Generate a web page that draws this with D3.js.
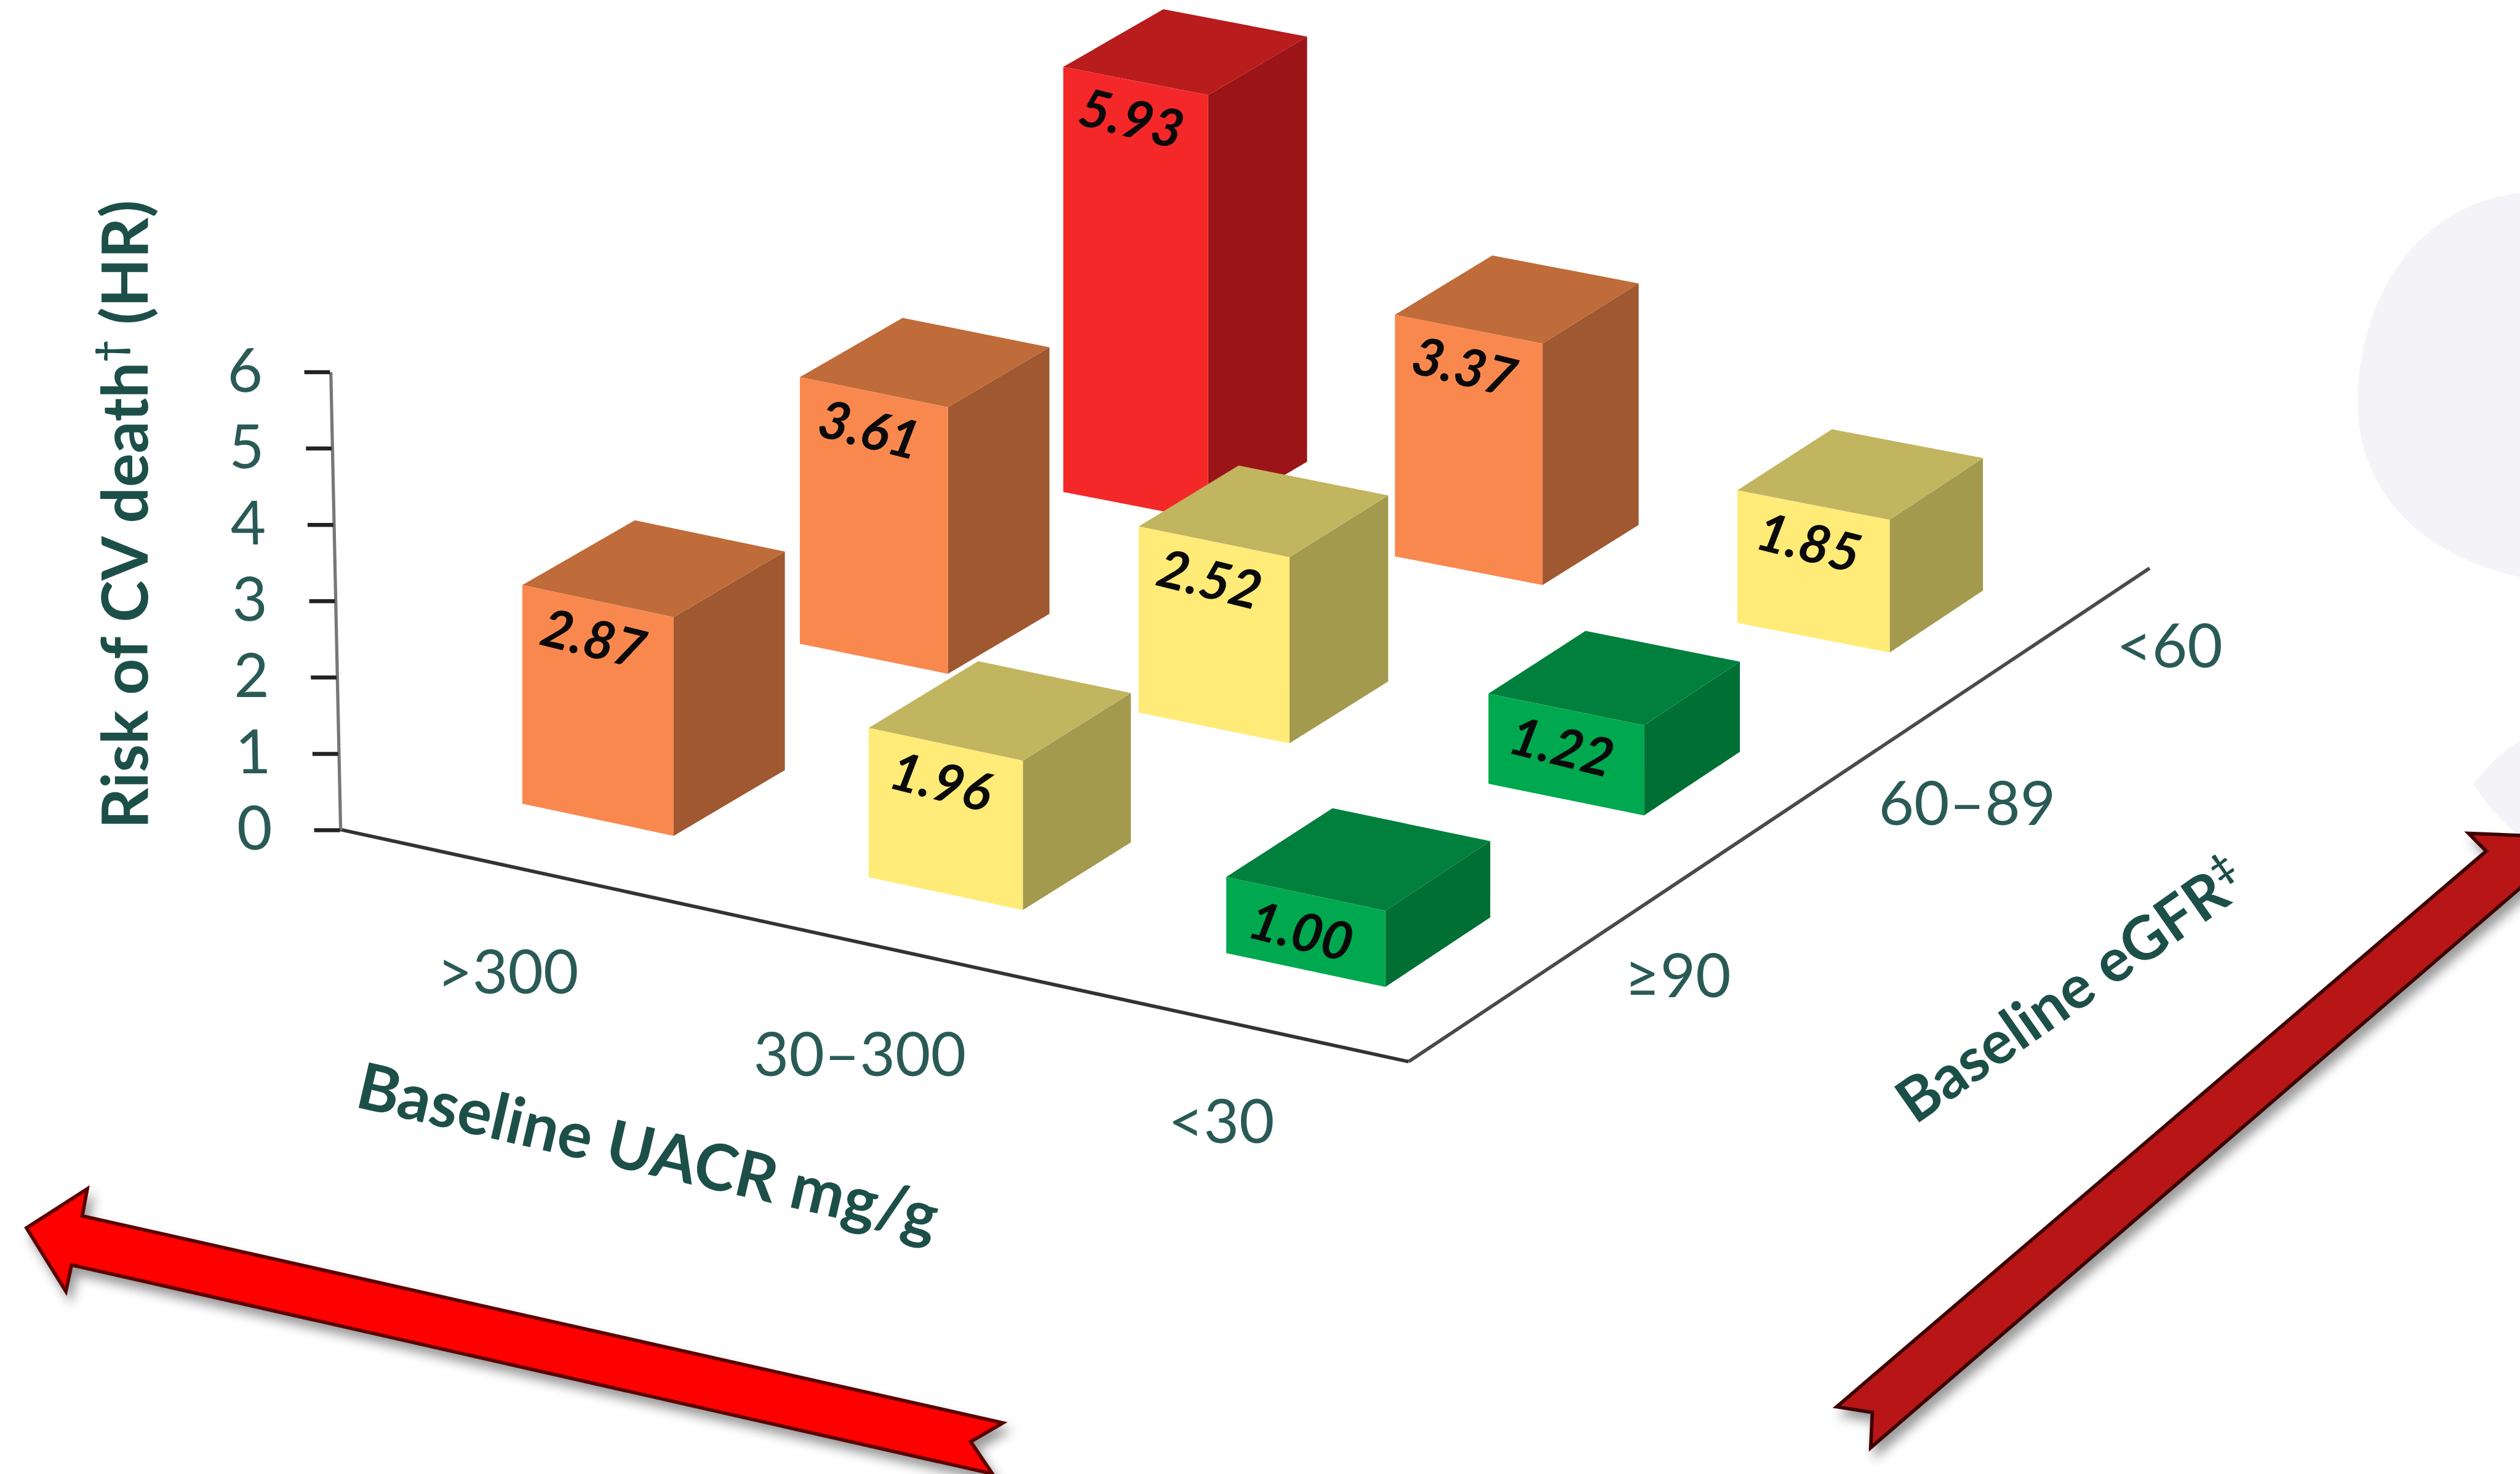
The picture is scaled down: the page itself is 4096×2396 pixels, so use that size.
<!DOCTYPE html>
<html>
<head>
<meta charset="utf-8">
<script src="https://cdn.jsdelivr.net/npm/d3@7"></script>
<style>
  html, body { margin: 0; padding: 0; background: #fff; overflow: hidden; }
  svg { display: block; }
  text { font-family: Lato, "Open Sans", sans-serif; }
</style>
</head>
<body>
<svg id="chart"></svg>
<script>
// Hazard ratios for CV death by baseline kidney measures
const uacrCategories = [">300", "30–300", "<30"];
const egfrCategories = ["≥90", "60–89", "<60"];
const riskAt90 = [2.87, 1.96, 1.00];
const riskAt60to89 = [3.61, 2.52, 1.22];
const riskBelow60 = [5.93, 3.37, 1.85];
const riskTicks = [0, 1, 2, 3, 4, 5, 6];

const riskRows = [riskAt90, riskAt60to89, riskBelow60];

// Drawing space; the viewBox scales it up to the window
const W = 1568, H = 917;
const svg = d3.select("#chart")
  .attr("width", 4096).attr("height", 2396)
  .attr("viewBox", `0 0 ${W} ${H}`);

const INK = "#1d4f49";
const TICK_INK = "#2a5a56";

const defs = svg.append("defs");
defs.append("filter").attr("id", "arrowShadow")
  .attr("x", "-10%").attr("y", "-10%").attr("width", "120%").attr("height", "130%")
  .append("feDropShadow")
  .attr("dx", 3).attr("dy", 5).attr("stdDeviation", 3.5)
  .attr("flood-color", "#000").attr("flood-opacity", 0.4);

// Pale decorative shapes behind the chart at the right edge
svg.append("path")
  .attr("d", "M1568,120 C1500,128 1467,190 1467,250 C1467,305 1505,345 1568,359 Z")
  .attr("fill", "#f3f3f8");
svg.append("path")
  .attr("d", "M1568,461 Q1552,470 1539,488 Q1552,508 1568,520 Z")
  .attr("fill", "#f3f3f8");

// Floor of the 3D plot: bilinear map from (u, v) to the screen
const floorCorners = { a: [325, 500], b: [763, 593], c: [661.6, 306], d: [1081, 387.5] };
function floor(u, v) {
  const { a, b, c, d } = floorCorners;
  const fx = d3.interpolateNumber(a[0] + (b[0] - a[0]) * u, c[0] + (d[0] - c[0]) * u);
  const fy = d3.interpolateNumber(a[1] + (b[1] - a[1]) * u, c[1] + (d[1] - c[1]) * u);
  return [fx(v), fy(v)];
}

const uScale = d3.scaleOrdinal(uacrCategories, [0, 0.492, 1]);
const vScale = d3.scaleOrdinal(egfrCategories, [0, 0.513, 1]);
// Bar footprint on the floor: wider towards the near corner, shallower at the back
const barWidth = d3.scaleOrdinal(uacrCategories, [0.215, 0.219, 0.226]);
const barDepth = d3.scaleOrdinal(egfrCategories, [0.208, 0.19, 0.185]);

// Height per unit of risk shrinks slightly towards the back of the plot
const unitHeight = d3.scaleLinear([0, 1], [47.4, 44.6]);

const faceColours = d3.scaleThreshold()
  .domain([1.5, 2.7, 4])
  .range([
    { front: "#00a84f", top: "#00803c", side: "#006f33" },
    { front: "#ffeb78", top: "#c2b560", side: "#a49a4e" },
    { front: "#f9884f", top: "#bf6c3a", side: "#a05830" },
    { front: "#f42829", top: "#b81c1c", side: "#9b1518" }
  ]);

// Back row first so that nearer bars paint over farther ones
const bars = [];
egfrCategories.forEach((egfr, r) => {
  uacrCategories.forEach((uacr, c) => {
    bars.push({ uacr, egfr, value: riskRows[r][c], row: r });
  });
});
bars.sort((p, q) => q.row - p.row);

const line = d3.line();
const barG = svg.append("g").selectAll("g").data(bars).join("g");

function corners(d) {
  const u = uScale(d.uacr), v = vScale(d.egfr);
  const du = barWidth(d.uacr), dv = barDepth(d.egfr);
  const h = d3.scaleLinear([0, 1], [0, unitHeight(v)])(d.value);
  const up = p => [p[0], p[1] - h];
  const fl = floor(u, v), fr = floor(u + du, v);
  const br = floor(u + du, v + dv), bl = floor(u, v + dv);
  return { fl, fr, br, tfl: up(fl), tfr: up(fr), tbr: up(br), tbl: up(bl) };
}

barG.append("path").attr("fill", d => faceColours(d.value).side)
  .attr("d", d => { const k = corners(d); return line([k.fr, k.br, k.tbr, k.tfr]) + "Z"; });
barG.append("path").attr("fill", d => faceColours(d.value).top)
  .attr("d", d => { const k = corners(d); return line([k.tfl, k.tfr, k.tbr, k.tbl]) + "Z"; });
barG.append("path").attr("fill", d => faceColours(d.value).front)
  .attr("d", d => { const k = corners(d); return line([k.fl, k.fr, k.tfr, k.tfl]) + "Z"; });

barG.append("text")
  .attr("transform", d => {
    const k = corners(d);
    const x = k.tfl[0] + (k.tfr[0] - k.tfl[0]) * 0.47;
    const y = k.tfl[1] + (k.tfr[1] - k.tfl[1]) * 0.47 + 24;
    return `translate(${x},${y}) rotate(14)`;
  })
  .attr("text-anchor", "middle").attr("dy", "0.35em")
  .attr("font-size", 33).attr("font-style", "italic").attr("font-weight", 700)
  .attr("fill", "#0a0a0a")
  .text(d => d.value.toFixed(2));

// Floor edges
svg.append("path")
  .attr("d", line([[211.4, 516], [876.5, 660.5]]))
  .attr("fill", "none").attr("stroke", "#333").attr("stroke-width", 2.2);
svg.append("path")
  .attr("d", line([[876.5, 660.5], [1337.5, 353.5]]))
  .attr("fill", "none").attr("stroke", "#4a4a4a").attr("stroke-width", 2.2);

// Risk axis, leaning slightly with the perspective
const riskScale = d3.scaleLinear([0, 6], [516, 231]);
const axisG = svg.append("g")
  .attr("transform", "matrix(1,0,0.0214,1,200.4,0)")
  .call(d3.axisLeft(riskScale).tickValues(riskTicks).tickFormat(d3.format("d")).tickSize(16).tickSizeOuter(0));
axisG.select(".domain").attr("stroke", "#777").attr("stroke-width", 2);
axisG.selectAll(".tick line").attr("stroke", "#222").attr("stroke-width", 2.5);
axisG.selectAll(".tick text")
  .attr("x", -53).attr("text-anchor", "middle")
  .attr("font-size", 38).attr("font-family", "Lato")
  .attr("fill", TICK_INK);

// Category labels along both floor edges
const uacrLabels = d3.scaleOrdinal(uacrCategories, [[316, 605], [535, 656], [760, 698]]);
const egfrLabels = d3.scaleOrdinal(egfrCategories, [[1044, 607], [1224, 500], [1350, 402]]);
function drawCategoryLabels(cats, at) {
  svg.append("g").selectAll("text").data(cats).join("text")
    .attr("x", d => at(d)[0]).attr("y", d => at(d)[1])
    .attr("dy", "0.35em").attr("text-anchor", "middle")
    .attr("font-size", 38).attr("fill", TICK_INK)
    .text(d => d);
}
drawCategoryLabels(uacrCategories, uacrLabels);
drawCategoryLabels(egfrCategories, egfrLabels);

// Axis titles; x and y give the middle of the baseline
function title(x, y, angle, size, parts) {
  const t = svg.append("text")
    .attr("transform", `translate(${x},${y}) rotate(${angle})`)
    .attr("text-anchor", "middle")
    .attr("font-size", size).attr("font-weight", 700).attr("fill", INK);
  parts.forEach(p => {
    if (p.sup) {
      t.append("tspan").attr("font-size", size * 0.6).attr("dy", -size * 0.38).text(p.text);
    } else {
      t.append("tspan").attr("dy", p.after ? size * 0.38 : 0).text(p.text);
    }
  });
}
title(92, 320, -90, 39.5, [{ text: "Risk of CV death" }, { text: "†", sup: true }, { text: " (HR)", after: true }]);
title(400, 730, 13, 40, [{ text: "Baseline UACR mg/g" }]);
title(1296, 627, -35, 37.5, [{ text: "Baseline eGFR" }, { text: "‡", sup: true }]);

// Direction arrows under the axes
const uacrArrow = [[16.5, 764], [54.3, 739.7], [51.2, 756.5], [624, 885.3], [604, 897], [617.5, 917], [44.5, 787], [41, 803.5]];
const egfrArrow = [[1142.8, 875.3], [1165, 878.8], [1164, 900.7], [1600, 525], [1650, 523], [1536, 518.5], [1547, 529.5]];
svg.append("path").attr("d", line(uacrArrow) + "Z")
  .attr("fill", "#ff0000").attr("stroke", "#5a0000").attr("stroke-width", 2.2)
  .attr("stroke-linejoin", "miter").attr("filter", "url(#arrowShadow)");
svg.append("path").attr("d", line(egfrArrow) + "Z")
  .attr("fill", "#b81818").attr("stroke", "#3c0606").attr("stroke-width", 2.2)
  .attr("stroke-linejoin", "miter").attr("filter", "url(#arrowShadow)");
</script>
</body>
</html>
